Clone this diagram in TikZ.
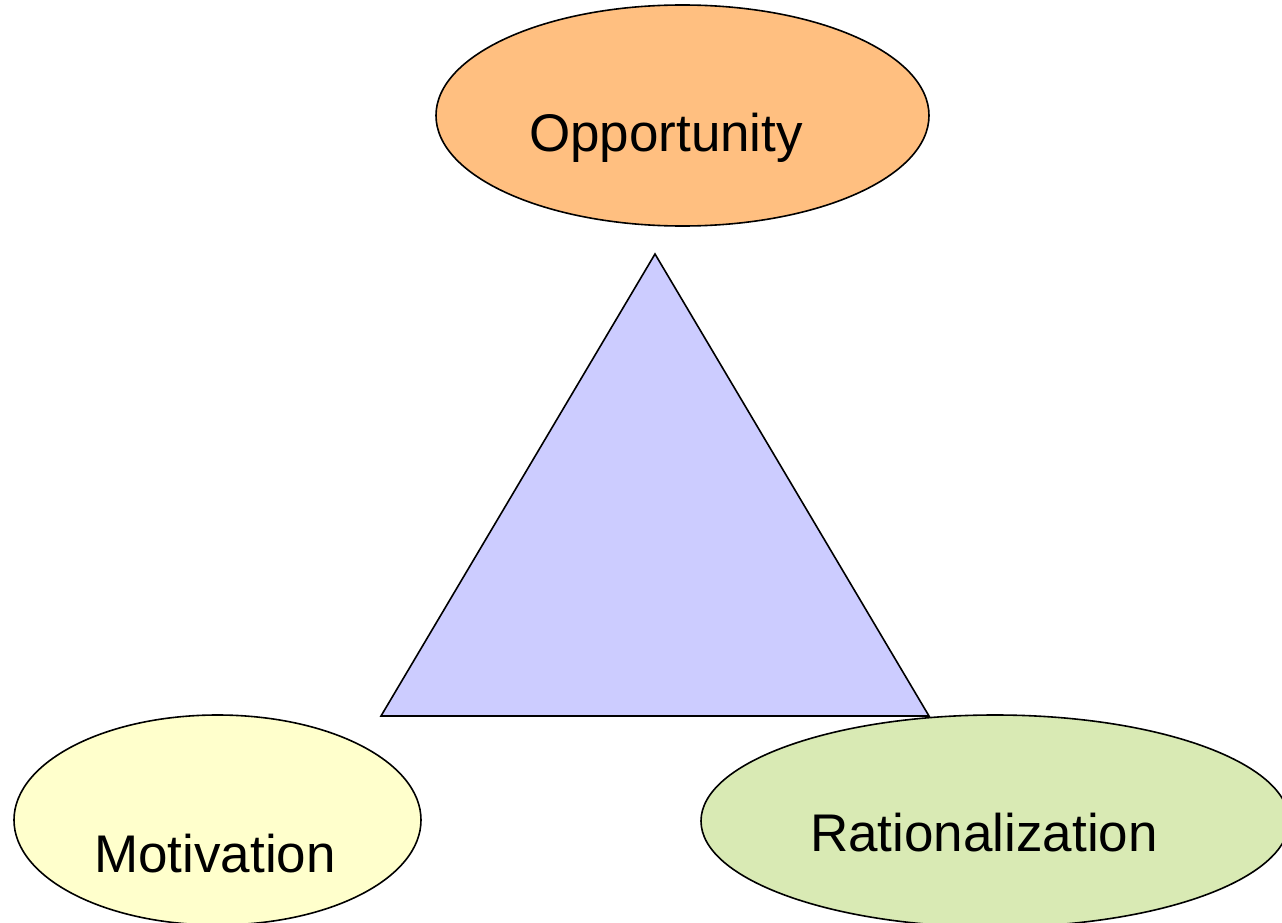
\documentclass[tikz,border=0pt]{standalone}
\usepackage{fontspec}
\setmainfont{Liberation Sans}
\usetikzlibrary{shapes.geometric}
\definecolor{oppfill}{HTML}{FFBF80}
\definecolor{motfill}{HTML}{FFFFCC}
\definecolor{ratfill}{HTML}{D9EAB4}
\definecolor{trifill}{HTML}{CCCCFF}
\begin{document}
\begin{tikzpicture}[x=1pt,y=-1pt,
  oval/.style={ellipse, draw=black, line width=1.6pt, inner sep=0pt},
  lbl/.style={anchor=base, inner sep=0pt, font=\fontsize{53}{60}\selectfont}]
\useasboundingbox (0,0) rectangle (1282,923);
\clip (0,0) rectangle (1282,923);
\coordinate (apex) at (655,254);
\coordinate (bl) at (381,716);
\coordinate (br) at (929,716);
\draw[fill=trifill, line width=1.6pt, line join=miter] (apex) -- (bl) -- (br) -- cycle;
\node[oval, fill=oppfill, minimum width=493pt, minimum height=221pt] (opp) at (682.5,115.5) {};
\node[oval, fill=motfill, minimum width=407pt, minimum height=210pt] (mot) at (217.5,820) {};
\node[oval, fill=ratfill, minimum width=588pt, minimum height=212pt] (rat) at (995,821) {};
\node[lbl] (opptxt) at (666,152) {Opportunity};
\node[lbl] (mottxt) at (215,872) {Motivation};
\node[lbl] (rattxt) at (984,851) {Rationalization};
\end{tikzpicture}
\end{document}
